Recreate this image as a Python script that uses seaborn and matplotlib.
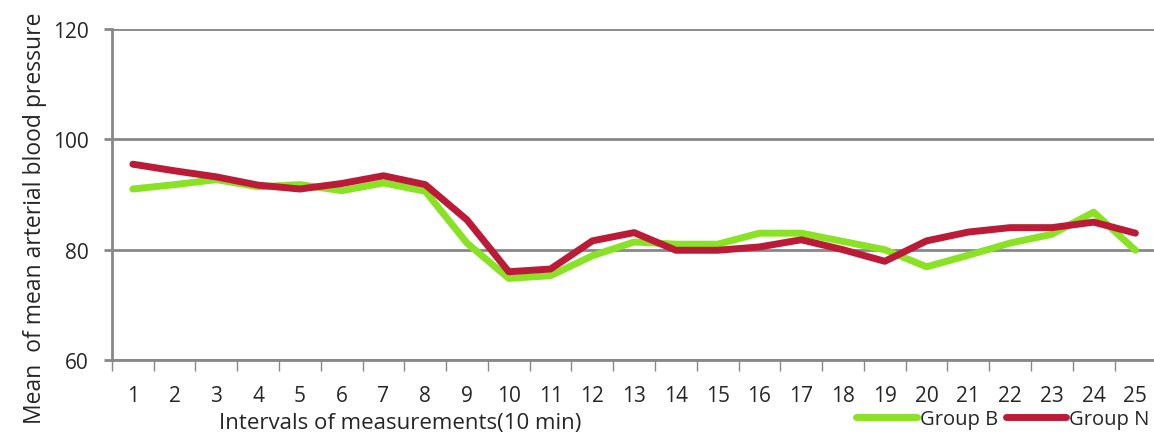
import numpy as np
import pandas as pd
import matplotlib
matplotlib.use('Agg')
import matplotlib.pyplot as plt
import seaborn as sns

# data
intervals = list(range(1, 26))
group_b = [91.0, 91.8, 92.7, 91.4, 91.8, 90.7, 92.1, 90.6, 81.2, 74.8,
           75.3, 78.9, 81.4, 81.0, 81.0, 83.0, 83.0, 81.5, 80.0, 76.9,
           79.0, 81.2, 82.8, 86.8, 79.9]
group_n = [95.5, 94.3, 93.2, 91.7, 91.0, 92.0, 93.4, 91.8, 85.4, 76.0,
           76.5, 81.6, 83.1, 79.9, 79.9, 80.5, 81.8, 80.0, 77.9, 81.6,
           83.2, 84.0, 84.0, 85.0, 83.0]
y_ticks = [60, 80, 100, 120]

df = pd.DataFrame({
    'interval': intervals * 2,
    'value': group_b + group_n,
    'group': ['Group B'] * 25 + ['Group N'] * 25,
})

sns.set_style('white')
plt.rcParams['font.family'] = ['Open Sans', 'DejaVu Sans']

fig = plt.figure(figsize=(11.54, 4.35), dpi=100)
ax = fig.add_axes([0.097, 0.17, 0.905, 0.761])

palette = {'Group B': '#8AE224', 'Group N': '#BC1B38'}
sns.lineplot(data=df, x='interval', y='value', hue='group', palette=palette,
             linewidth=5, ax=ax, legend=False)

ax.set_xlim(0.5, 25.5)
ax.set_ylim(60, 120)
ax.set_yticks(y_ticks)
ax.set_xticks(intervals)
ax.set_xticks(np.arange(0.5, 26, 1), minor=True)
ax.yaxis.grid(True, color='#888888', linewidth=2)
ax.set_axisbelow(True)

for s in ['top', 'right']:
    ax.spines[s].set_visible(False)
for s in ['left', 'bottom']:
    ax.spines[s].set_color('#888888')
    ax.spines[s].set_linewidth(2)

ax.tick_params(axis='y', which='major', length=6, width=2, color='#888888',
               direction='out', labelsize=15, pad=11, left=True)
ax.tick_params(axis='x', which='major', length=0, labelsize=15, pad=18)
ax.tick_params(axis='x', which='minor', length=8, width=1, color='#888888',
               direction='out', bottom=True)

ax.set_xlabel('')
ax.set_ylabel('Mean  of mean arterial blood pressure', fontsize=16.5)
ax.yaxis.set_label_coords(-0.062, 0.43)
fig.text(0.19, 0.014, 'Intervals of measurements(10 min)', fontsize=16)

handles = [plt.Line2D([], [], color=palette[g], linewidth=5) for g in ['Group B', 'Group N']]
fig.legend(handles, ['Group B', 'Group N'], loc='lower right', bbox_to_anchor=(1.012, -0.03),
           ncol=2, frameon=False, fontsize=14.5, handlelength=3.0, handletextpad=0.15,
           columnspacing=0.4)

fig.savefig('out.png', dpi=100)
